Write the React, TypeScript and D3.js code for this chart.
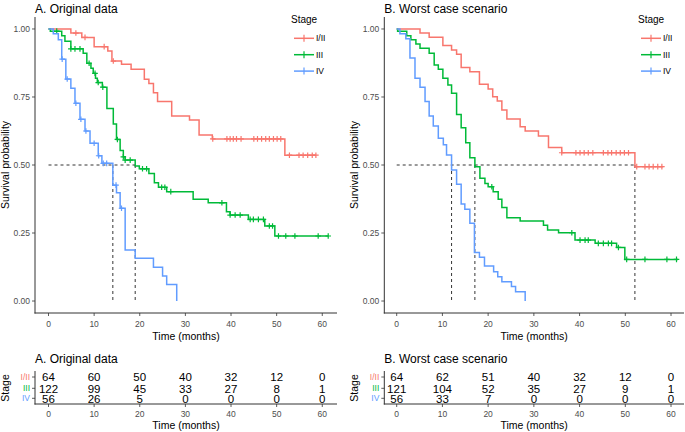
import React from 'react';
import * as d3 from 'd3';

const stages = ['I/II', 'III', 'IV'];
const colors = ['#F8766D', '#00BA38', '#619CFF'];
const timeTicks = [0, 10, 20, 30, 40, 50, 60];
const survTicks = [0, 0.25, 0.5, 0.75, 1];
const survTickLabels = ['0.00', '0.25', '0.50', '0.75', '1.00'];

// ---- A. Original data ----
const timesA_I = [0, 4.9, 7.3, 10.0, 13.0, 13.9, 16.0, 18.1, 21.0, 22.0, 23.0, 23.9, 27.0, 30.9, 33.0, 35.9, 51.8];
const survA_I = [1, 0.985, 0.969, 0.935, 0.919, 0.882, 0.870, 0.852, 0.815, 0.800, 0.766, 0.733, 0.680, 0.665, 0.610, 0.596, 0.536];
const censA_I = [6.0, 8.0, 12.2, 14.2, 36.0, 39.1, 39.8, 40.5, 41.2, 42.2, 45.0, 45.8, 46.7, 47.6, 48.4, 49.3, 50.1, 50.9, 52.8, 54.9, 55.8, 56.8, 57.8, 58.6];
const endA_I = 58.6;

const timesA_III = [0, 0.4, 2.9, 3.6, 4.9, 7.6, 8.4, 9.3, 9.8, 10.3, 10.7, 11.8, 12.8, 14.2, 14.9, 15.7, 16.4, 16.8, 19.0, 19.9, 22.0, 23.2, 24.1, 25.9, 31.7, 35.0, 39.0, 39.8, 43.8, 47.4, 49.6];
const survA_III = [1, 0.992, 0.975, 0.955, 0.927, 0.911, 0.874, 0.856, 0.837, 0.819, 0.803, 0.786, 0.708, 0.651, 0.594, 0.553, 0.530, 0.518, 0.496, 0.486, 0.469, 0.435, 0.418, 0.402, 0.374, 0.361, 0.328, 0.316, 0.300, 0.276, 0.239];
const censA_III = [1.8, 4.9, 5.8, 6.9, 8.9, 10.2, 10.9, 11.9, 15.1, 16.4, 16.8, 17.9, 20.6, 21.5, 24.8, 25.5, 26.8, 38.0, 39.8, 40.9, 42.0, 44.2, 44.9, 46.0, 47.1, 48.4, 49.1, 50.4, 52.0, 54.0, 59.1, 61.3];
const endA_III = 61.3;

const timesA_IV = [0, 1.05, 2.15, 2.9, 3.8, 4.9, 5.8, 6.9, 8.0, 9.1, 10.9, 11.7, 14.1, 14.9, 15.7, 16.8, 19.0, 23.0, 25.0, 25.9, 28.1];
const survA_IV = [1, 0.982, 0.960, 0.889, 0.816, 0.782, 0.727, 0.668, 0.625, 0.580, 0.534, 0.506, 0.426, 0.398, 0.341, 0.188, 0.157, 0.124, 0.092, 0.061, 0];
const censA_IV = [3.0, 4.1, 6.0, 7.1, 8.2, 10.0, 11.0, 12.0, 12.75, 14.8, 16.0];
const endA_IV = 28.1;

const riskA_I = [64, 60, 50, 40, 32, 12, 0];
const riskA_III = [122, 99, 45, 33, 27, 8, 1];
const riskA_IV = [56, 26, 5, 0, 0, 0, 0];

// ---- B. Worst case scenario ----
const timesB_I = [0, 5.1, 7.1, 10.1, 12.0, 13.1, 14.1, 16.0, 18.1, 20.0, 21.0, 22.0, 23.0, 24.1, 27.0, 28.1, 31.0, 33.2, 36.1, 52.1];
const survB_I = [1, 0.985, 0.970, 0.939, 0.923, 0.907, 0.858, 0.843, 0.797, 0.779, 0.751, 0.735, 0.702, 0.669, 0.641, 0.625, 0.607, 0.564, 0.545, 0.494];
const censB_I = [36.1, 39.2, 40.1, 41.0, 41.9, 42.9, 45.2, 46.2, 47.0, 48.0, 48.9, 49.8, 50.7, 52.5, 54.3, 55.2, 56.1, 57.1, 58.0];
const endB_I = 58.3;

const timesB_III = [0, 0.2, 2.2, 3.1, 4.2, 5.1, 7.1, 8.2, 9.1, 10.1, 11.2, 12.0, 13.1, 14.1, 15.1, 16.0, 17.1, 18.2, 19.3, 20.0, 21.1, 22.2, 23.0, 24.1, 27.0, 32.1, 33.0, 35.4, 39.0, 43.4, 48.1, 49.9];
const survB_III = [1, 0.992, 0.975, 0.960, 0.945, 0.929, 0.911, 0.868, 0.852, 0.819, 0.794, 0.764, 0.686, 0.637, 0.582, 0.527, 0.494, 0.451, 0.432, 0.420, 0.402, 0.374, 0.344, 0.306, 0.294, 0.279, 0.261, 0.251, 0.224, 0.212, 0.197, 0.153];
const censB_III = [20.8, 38.3, 40.1, 41.2, 41.9, 44.1, 45.2, 46.3, 47.0, 48.5, 50.3, 54.3, 59.1, 61.2];
const endB_III = 61.5;

const timesB_IV = [0, 0.7, 2.0, 2.9, 4.0, 5.1, 6.2, 7.1, 8.0, 9.1, 10.2, 10.9, 12.0, 13.1, 14.1, 14.9, 16.0, 17.0, 18.1, 19.2, 21.2, 22.1, 23.0, 25.1, 26.0, 28.1];
const survB_IV = [1, 0.982, 0.964, 0.893, 0.819, 0.786, 0.733, 0.680, 0.643, 0.598, 0.574, 0.537, 0.482, 0.429, 0.357, 0.337, 0.286, 0.178, 0.161, 0.129, 0.108, 0.089, 0.071, 0.053, 0.034, 0];
const censB_IV: number[] = [];
const endB_IV = 28.1;

const riskB_I = [64, 62, 51, 40, 32, 12, 0];
const riskB_III = [121, 104, 52, 35, 27, 9, 1];
const riskB_IV = [56, 33, 7, 0, 0, 0, 0];

const FONT = "'Liberation Sans', Arial, Helvetica, sans-serif";

type Series = { times: number[]; surv: number[]; cens: number[]; end: number };

function survAt(s: Series, t: number) {
  let v = s.surv[0];
  for (let i = 0; i < s.times.length; i++) if (s.times[i] <= t + 1e-9) v = s.surv[i];
  return v;
}

function Panel(props: {
  title: string; left: number; zero: number; perUnit: number; right: number;
  series: Series[]; risk: number[][];
}) {
  const { title, left, zero, perUnit, right, series, risk } = props;
  const x = d3.scaleLinear().domain([(left - zero) / perUnit, (right - zero) / perUnit]).range([left, right]);
  const y = d3.scaleLinear().domain([-0.044, 1.044]).range([313, 17]);
  const line = d3.line<[number, number]>().x(d => x(d[0])).y(d => y(d[1])).curve(d3.curveStepAfter);

  const medians: number[] = [];
  series.forEach(s => {
    const i = s.surv.findIndex(v => v <= 0.5);
    if (i >= 0) medians.push(s.times[i]);
  });
  const maxMed = medians.length ? Math.max(...medians) : 0;
  const axisColor = '#333';
  const tickColor = '#4d4d4d';
  const rowY = [377, 388.3, 398.3];
  const legendX = right - 44;

  return (
    <g fontFamily={FONT}>
      <text x={left} y={13} fontSize={12} fill="#000">{title}</text>
      {medians.length > 0 && (
        <g stroke="#000" strokeWidth={0.8} strokeDasharray="3,3" fill="none">
          <line x1={x(0)} x2={x(maxMed)} y1={y(0.5)} y2={y(0.5)} />
          {medians.map((m, i) => <line key={i} x1={x(m)} x2={x(m)} y1={y(0.5)} y2={y(0)} />)}
        </g>
      )}
      {series.map((s, k) => {
        const pts: [number, number][] = s.times.map((t, i) => [t, s.surv[i]] as [number, number]);
        pts.push([s.end, s.surv[s.surv.length - 1]]);
        return (
          <g key={k} stroke={colors[k]} strokeWidth={1.5} fill="none">
            <path d={line(pts) || ''} />
            {s.cens.map((c, i) => {
              const cx = x(c), cy = y(survAt(s, c));
              return <path key={i} d={`M${cx - 2.8},${cy}H${cx + 2.8}M${cx},${cy - 2.8}V${cy + 2.8}`} strokeWidth={1.2} />;
            })}
          </g>
        );
      })}
      <line x1={left} x2={left} y1={17} y2={313.5} stroke={axisColor} strokeWidth={1} />
      <line x1={left - 0.5} x2={right} y1={313} y2={313} stroke={axisColor} strokeWidth={1} />
      {survTicks.map((v, i) => (
        <g key={i}>
          <line x1={left - 3} x2={left} y1={y(v)} y2={y(v)} stroke={axisColor} strokeWidth={0.8} />
          <text x={left - 5} y={y(v) + 3} fontSize={8.5} fill={tickColor} textAnchor="end">{survTickLabels[i]}</text>
        </g>
      ))}
      {timeTicks.map((t, i) => (
        <g key={i}>
          <line x1={x(t)} x2={x(t)} y1={313} y2={316} stroke={axisColor} strokeWidth={0.8} />
          <text x={x(t)} y={327} fontSize={8.5} fill={tickColor} textAnchor="middle">{t}</text>
        </g>
      ))}
      <text x={(left + right) / 2} y={340} fontSize={10.5} textAnchor="middle" fill="#000">Time (months)</text>
      <text transform={`translate(${left - 26},165) rotate(-90)`} fontSize={10.5} textAnchor="middle" fill="#000">Survival probability</text>
      <text x={legendX - 2} y={23} fontSize={10} fill="#000">Stage</text>
      {stages.map((st, k) => {
        const ly = 38.3 + k * 16.4;
        return (
          <g key={k}>
            <g stroke={colors[k]} strokeWidth={1.5}>
              <line x1={legendX + 1} x2={legendX + 21} y1={ly} y2={ly} />
              <line x1={legendX + 11} x2={legendX + 11} y1={ly - 3.5} y2={ly + 3.5} strokeWidth={1.2} />
            </g>
            <text x={legendX + 23} y={ly + 3} fontSize={8.5} fill="#000">{st}</text>
          </g>
        );
      })}
      <text x={left} y={363} fontSize={12} fill="#000">{title}</text>
      <line x1={left} x2={left} y1={371} y2={404.5} stroke={axisColor} strokeWidth={1} />
      <line x1={left - 0.5} x2={right} y1={404} y2={404} stroke={axisColor} strokeWidth={1} />
      {stages.map((st, k) => (
        <g key={k}>
          <line x1={left - 3} x2={left} y1={rowY[k]} y2={rowY[k]} stroke={axisColor} strokeWidth={0.8} />
          <text x={left - 5} y={rowY[k] + 3} fontSize={8.5} fill={colors[k]} textAnchor="end">{st}</text>
          {risk[k].map((n, j) => (
            <text key={j} x={x(timeTicks[j])} y={rowY[k] + 4.2} fontSize={11.5} textAnchor="middle" fill="#000">{n}</text>
          ))}
        </g>
      ))}
      {timeTicks.map((t, i) => (
        <g key={i}>
          <line x1={x(t)} x2={x(t)} y1={404} y2={407} stroke={axisColor} strokeWidth={0.8} />
          <text x={x(t)} y={417} fontSize={8.5} fill={tickColor} textAnchor="middle">{t}</text>
        </g>
      ))}
      <text x={(left + right) / 2} y={429} fontSize={10.5} textAnchor="middle" fill="#000">Time (months)</text>
      <text transform={`translate(${left - 26},388) rotate(-90)`} fontSize={10.5} textAnchor="middle" fill="#000">Stage</text>
    </g>
  );
}

export default function App() {
  const seriesA: Series[] = [
    { times: timesA_I, surv: survA_I, cens: censA_I, end: endA_I },
    { times: timesA_III, surv: survA_III, cens: censA_III, end: endA_III },
    { times: timesA_IV, surv: survA_IV, cens: censA_IV, end: endA_IV },
  ];
  const seriesB: Series[] = [
    { times: timesB_I, surv: survB_I, cens: censB_I, end: endB_I },
    { times: timesB_III, surv: survB_III, cens: censB_III, end: endB_III },
    { times: timesB_IV, surv: survB_IV, cens: censB_IV, end: endB_IV },
  ];
  return (
    <svg width={685} height={432} style={{ position: 'absolute', left: 0, top: 0, background: '#fff' }}>
      <rect width={685} height={432} fill="#fff" />
      <Panel title="A. Original data" left={35} zero={48.5} perUnit={4.563} right={337}
        series={seriesA} risk={[riskA_I, riskA_III, riskA_IV]} />
      <Panel title="B. Worst case scenario" left={384.3} zero={396.7} perUnit={4.572} right={684}
        series={seriesB} risk={[riskB_I, riskB_III, riskB_IV]} />
    </svg>
  );
}
